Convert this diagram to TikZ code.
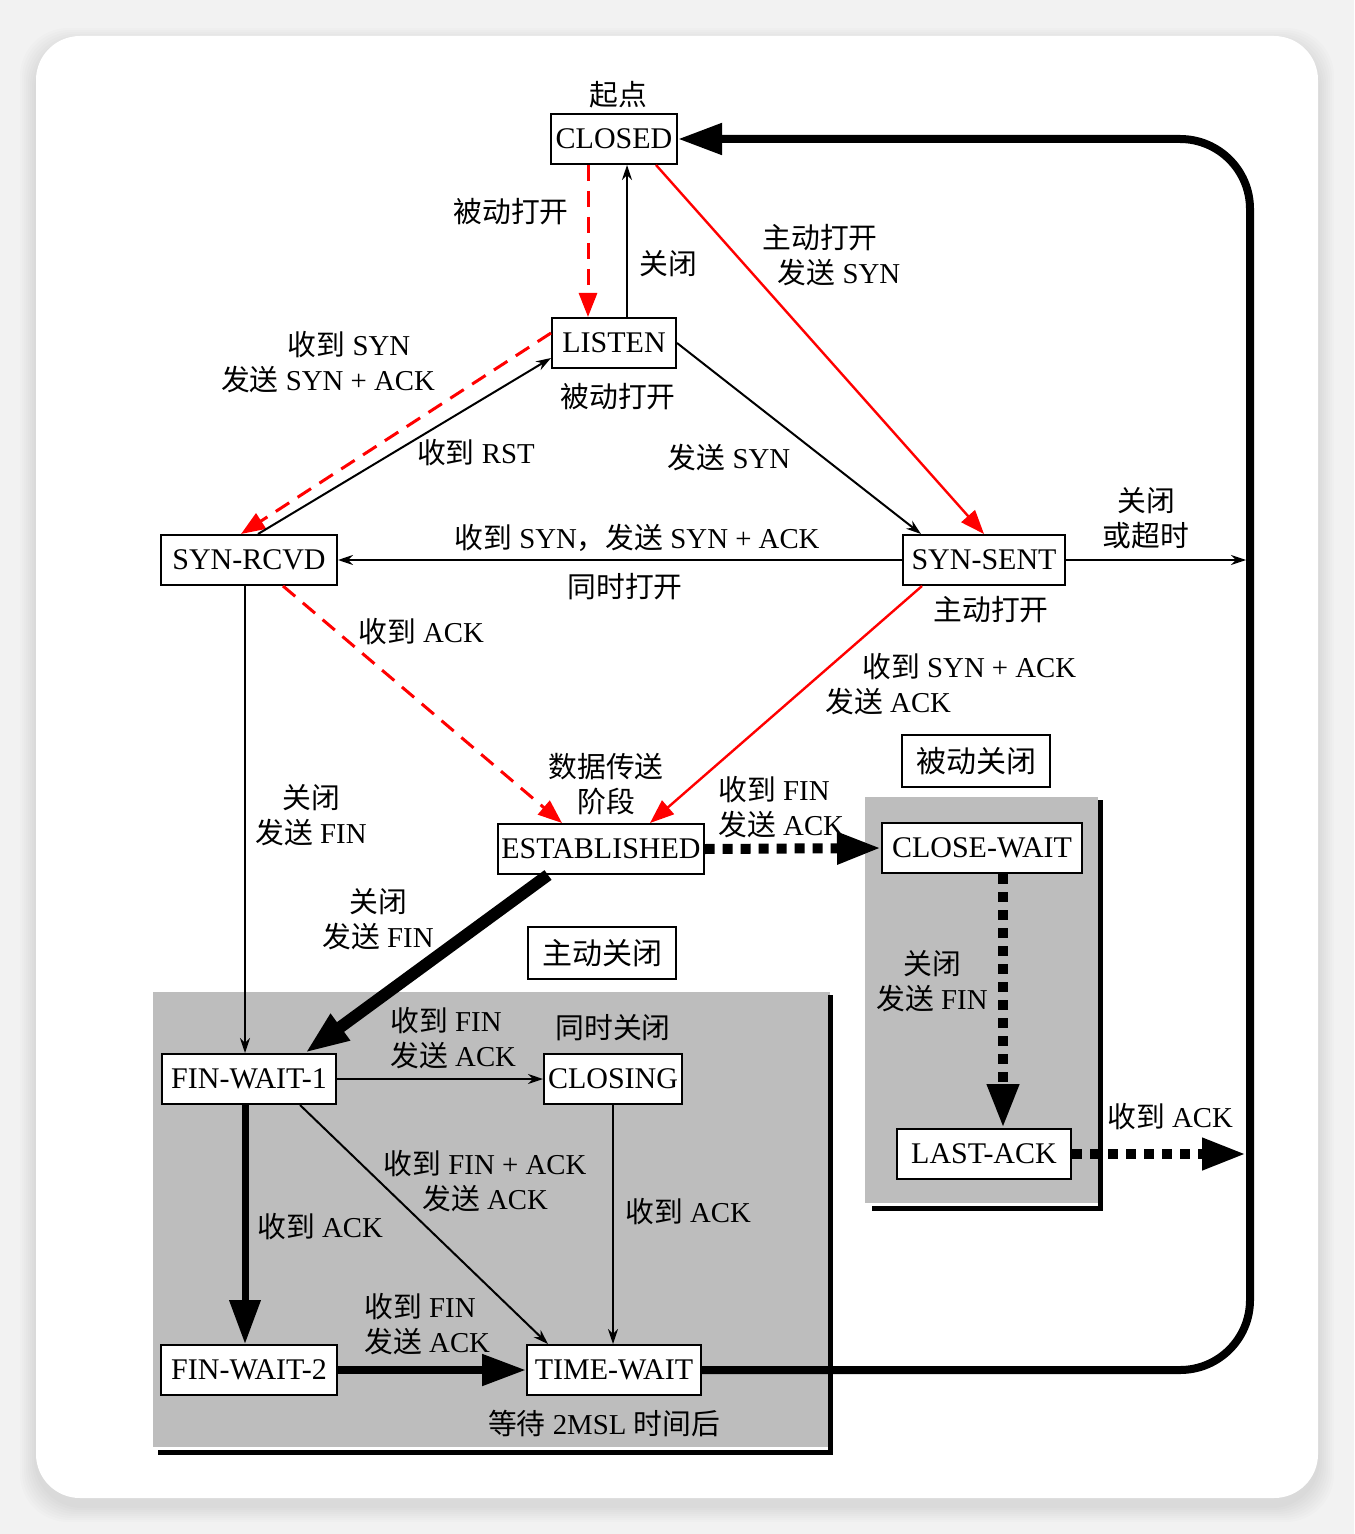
\documentclass[tikz,border=0pt]{standalone}
\usepackage{fontspec}
\setmainfont{Liberation Serif}
\newfontfamily\cjk{Noto Sans CJK SC}
\newcommand\zh[1]{{\cjk #1}}
\usetikzlibrary{arrows.meta,positioning,calc}

\begin{document}
\begin{tikzpicture}[
  x=0.5pt, y=-0.5pt,
  >=Stealth,
  font=\fontsize{14.4}{17.5}\selectfont,
  state/.style={draw=black, line width=1pt, fill=white,
                minimum height=25pt, inner xsep=1.5pt, inner ysep=0pt,
                font=\fontsize{15}{17.5}\selectfont},
  tagbox/.style={state, minimum height=26pt, minimum width=74pt},
  lbl/.style={align=center, inner sep=1pt},
  plain/.style={-{Stealth[length=7.5pt,width=5pt]}, line width=1pt},
  redline/.style={-{Triangle[length=12pt,width=9pt]}, draw=red, line width=1.2pt},
  reddash/.style={redline, line width=1.5pt, dash pattern=on 8pt off 5pt},
  heavy/.style={-{Triangle[length=22pt,width=15pt]}, line width=4pt},
  dotline/.style={heavy, line width=5pt, dash pattern=on 5pt off 4pt},
  zone/.style={fill=black!26, draw=none},
  rim/.style={line width=2.5pt}
]
\useasboundingbox (0,0) rectangle (1354,1534);

% ==================== Card =====================
\fill[black!5] (0,0) rectangle (1354,1534);
\foreach \s in {2,4,...,16}
  \fill[black, opacity=0.011, rounded corners=24pt]
    (36-\s,36-\s+8) rectangle (1318+\s,1498+\s+8);
\fill[white, rounded corners=22pt] (36,36) rectangle (1318,1498);

% ==================== Close zones =====================
\fill[zone] (153,992) rectangle (830,1447);
\draw[rim] (830,995) -- (830,1452) -- (158,1452);
\fill[zone] (865,797) rectangle (1098,1203);
\draw[rim] (1100,800) -- (1100,1208) -- (872,1208);

% ==================== States =====================
\node[state, minimum width=63pt]  (closed)    at (614,139)  {CLOSED};
\node[state, minimum width=62pt]  (listen)    at (614,343)  {LISTEN};
\node[state, minimum width=88pt]  (synrcvd)   at (249,560)  {SYN-RCVD};
\node[state, minimum width=81pt]  (synsent)   at (984,560)  {SYN-SENT};
\node[state, minimum width=102pt] (estab)     at (601,849)  {ESTABLISHED};
\node[state, minimum width=100pt] (closewait) at (982,848)  {CLOSE-WAIT};
\node[state, minimum width=87pt]  (lastack)   at (984,1154) {LAST-ACK};
\node[state, minimum width=87pt]  (finwait1)  at (249,1079) {FIN-WAIT-1};
\node[state, minimum width=69pt]  (closing)   at (613,1079) {CLOSING};
\node[state, minimum width=88pt]  (finwait2)  at (249,1370) {FIN-WAIT-2};
\node[state, minimum width=87pt]  (timewait)  at (614,1370) {TIME-WAIT};

\node[tagbox] (activeTag)  at (602,953) {\zh{主动关闭}};
\node[tagbox] (passiveTag) at (976,761) {\zh{被动关闭}};

\coordinate (loopTR) at (1250,139);
\coordinate (loopBR) at (1250,1370);

% ==================== Open transitions =====================
\draw[reddash] ([xshift=-13pt]closed.south) -- ([xshift=-13pt]listen.north);
\draw[plain] ([xshift=6.5pt]listen.north) -- ([xshift=6.5pt]closed.south);
\draw[redline] ([xshift=-11pt]closed.south east) -- (synsent.north);
\draw[plain] (listen.east) -- ([xshift=9.5pt]synsent.north west);
\draw[reddash] ([yshift=5pt]listen.west) -- ([xshift=-4pt]synrcvd.north);
\draw[plain] ([xshift=4.5pt]synrcvd.north) -- ([yshift=-7.5pt]listen.west);
\draw[plain] (synsent.west) -- (synrcvd.east);
\draw[reddash] ([xshift=17pt]synrcvd.south) -- ([xshift=-19.5pt]estab.north);
\draw[redline] ([xshift=10pt]synsent.south west) -- ([xshift=24.5pt]estab.north);
\draw[plain, shorten >=2pt] (synsent.east) -- (synsent.east -| loopBR);

% ==================== Passive close =====================
\draw[dotline] (estab.east) -- (closewait.west);
\draw[dotline] ([xshift=10.5pt]closewait.south) -- ([xshift=10.5pt]closewait.south |- lastack.north);
\draw[dotline, shorten >=2pt] (lastack.east) -- (lastack.east -| loopBR);

% ==================== Active close =====================
\draw[heavy, line width=6pt] ([xshift=-26.5pt]estab.south) -- ([xshift=28pt]finwait1.north);
\draw[plain] ([xshift=-2pt]synrcvd.south) -- ([xshift=-2pt]finwait1.north);
\draw[plain] (finwait1.east) -- (closing.west);
\draw[plain] ([xshift=25.5pt]finwait1.south) -- ([xshift=11pt]timewait.north west);
\draw[heavy, line width=3.5pt] ([xshift=-2pt]finwait1.south) -- ([xshift=-2pt]finwait2.north);
\draw[plain] (closing.south) -- (closing.south |- timewait.north);
\draw[heavy] (finwait2.east) -- (timewait.west);

% back to CLOSED
\draw[heavy, rounded corners=35pt] (timewait.east) -- (loopBR) -- (loopTR) -- (closed.east);

% ==================== Labels =====================
\node[lbl] (lStart)   at (618,95)  {\zh{起点}};
\node[lbl] (lPassOp)  at (511,212) {\zh{被动打开}};
\node[lbl] (lClose1)  at (668,264) {\zh{关闭}};
\node[lbl] (lActOp)   at (820,255) {\zh{主动打开}\\\hspace*{19pt}\zh{发送} SYN};
\node[lbl] (lRcvSyn)  at (328,362) {\hspace*{21pt}\zh{收到} SYN\\\zh{发送} SYN + ACK};
\node[lbl] (lPassOp2) at (618,397) {\zh{被动打开}};
\node[lbl] (lRst)     at (476,453) {\zh{收到} RST};
\node[lbl] (lSndSyn)  at (729,458) {\zh{发送} SYN};
\node[lbl] (lTimeout) at (1146,518) {\zh{关闭}\\\zh{或超时}};
\node[lbl] (lSimRcv)  at (637,538) {\zh{收到} SYN\zh{，发送} SYN + ACK};
\node[lbl] (lSimOp)   at (625,587) {\zh{同时打开}};
\node[lbl] (lActOp2)  at (991,610) {\zh{主动打开}};
\node[lbl] (lRcvAck1) at (421,632) {\zh{收到} ACK};
\node[lbl, anchor=west, align=left] (lSynAck) at (823,684)
  {\hspace*{18.5pt}\zh{收到} SYN + ACK\\\zh{发送} ACK};
\node[lbl] (lData)    at (606,784) {\zh{数据传送}\\\zh{阶段}};
\node[lbl, anchor=west, align=left] (lRcvFin1) at (716,807) {\zh{收到} FIN\\\zh{发送} ACK};
\node[lbl] (lCloseW)  at (932,981) {\zh{关闭}\\\zh{发送} FIN};
\node[lbl] (lRcvAck2) at (1170,1117) {\zh{收到} ACK};
\node[lbl] (lCloseR)  at (311,815) {\zh{关闭}\\\zh{发送} FIN};
\node[lbl] (lCloseE)  at (378,919) {\zh{关闭}\\\zh{发送} FIN};
\node[lbl, anchor=west, align=left] (lRcvFin2) at (388,1038) {\zh{收到} FIN\\\zh{发送} ACK};
\node[lbl] (lSimCl)   at (613,1028) {\zh{同时关闭}};
\node[lbl] (lFinAck)  at (485,1181) {\zh{收到} FIN + ACK\\\zh{发送} ACK};
\node[lbl] (lRcvAck3) at (320,1227) {\zh{收到} ACK};
\node[lbl] (lRcvAck4) at (688,1212) {\zh{收到} ACK};
\node[lbl, anchor=west, align=left] (lRcvFin3) at (362,1324) {\zh{收到} FIN\\\zh{发送} ACK};
\node[lbl] (lWait)    at (604,1423) {\zh{等待} 2MSL \zh{时间后}};

\end{tikzpicture}
\end{document}
